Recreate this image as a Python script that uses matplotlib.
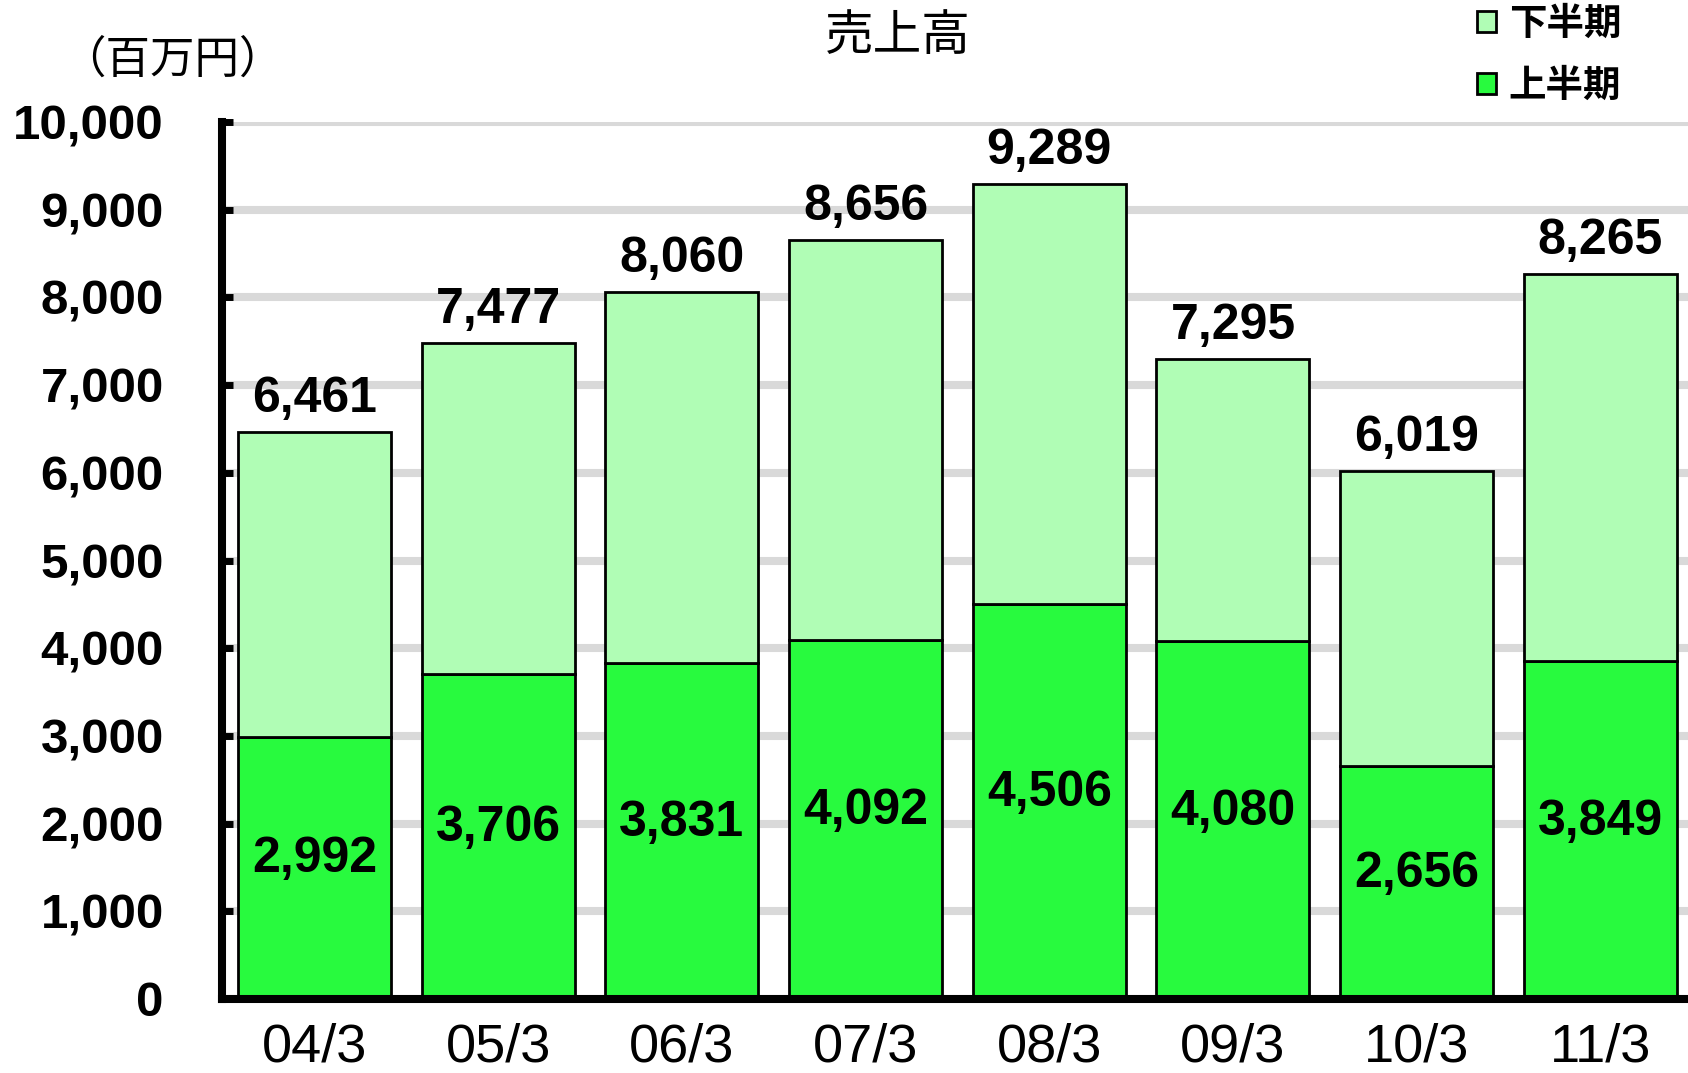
import matplotlib
matplotlib.use('Agg')
import matplotlib.pyplot as plt
import numpy as np

# データ（百万円）
years = ['04/3', '05/3', '06/3', '07/3', '08/3', '09/3', '10/3', '11/3']
first_half = [2992, 3706, 3831, 4092, 4506, 4080, 2656, 3849]   # 上半期
totals = [6461, 7477, 8060, 8656, 9289, 7295, 6019, 8265]       # 通期
second_half = [t - f for t, f in zip(totals, first_half)]       # 下半期

plt.rcParams['font.family'] = ['Liberation Sans', 'Noto Sans CJK JP', 'DejaVu Sans']
cjk = ['Noto Sans CJK JP', 'DejaVu Sans']

fig = plt.figure(figsize=(16.88, 10.73), dpi=100)
ax = fig.add_axes([222 / 1688, 1 - 999 / 1073, 1466 / 1688, 877 / 1073])

x = np.arange(len(years))
w = 0.833
b1 = ax.bar(x, first_half, width=w, color='#28fa3e', edgecolor='black', linewidth=2, label='上半期', zorder=3)
b2 = ax.bar(x, second_half, width=w, bottom=first_half, color='#b0fdb5', edgecolor='black',
            linewidth=2, label='下半期', zorder=3)

# ラベル
for xi, f, t in zip(x, first_half, totals):
    ax.annotate(f'{f:,}', (xi, f / 2), xytext=(0, 6), textcoords='offset points',
                ha='center', va='center', fontsize=36, fontweight='bold', zorder=5)
    ax.annotate(f'{t:,}', (xi, t), xytext=(0, 24), textcoords='offset points',
                ha='center', va='center', fontsize=36, fontweight='bold', zorder=5)

ax.set_xlim(-0.5035, 7.477)
ax.set_ylim(0, 10000)
ax.set_yticks(range(0, 10001, 1000))
ax.set_yticklabels([f'{v:,}' for v in range(0, 10001, 1000)], fontsize=35.5, fontweight='bold')
ax.set_xticks(x)
ax.set_xticklabels(years, fontsize=39)
ax.tick_params(axis='y', direction='in', length=8, width=5, pad=42)
ax.tick_params(axis='x', length=0, pad=17)

ax.grid(axis='y', color='#d9d9d9', linewidth=5.8)
ax.set_axisbelow(True)
for s in ['top', 'right']:
    ax.spines[s].set_visible(False)
for s in ['left', 'bottom']:
    ax.spines[s].set_linewidth(5.8)
    ax.spines[s].set_capstyle('projecting')
    ax.spines[s].set_zorder(4)

fig.text(898 / 1688, 1 - 36 / 1073, '売上高', ha='center', va='center', fontsize=35, family=cjk)
fig.text(172 / 1688, 1 - 60 / 1073, '（百万円）', ha='center', va='center', fontsize=32, family=cjk)

leg = fig.legend([b2, b1], ['下半期', '上半期'], loc='upper left', bbox_to_anchor=(1458 / 1688, 1.014),
                 frameon=False, prop={'family': cjk, 'weight': 'bold', 'size': 27},
                 handlelength=0.5, handleheight=0.5, handletextpad=0.35, labelspacing=0.62, borderpad=0)

fig.savefig('out.png', dpi=100)
